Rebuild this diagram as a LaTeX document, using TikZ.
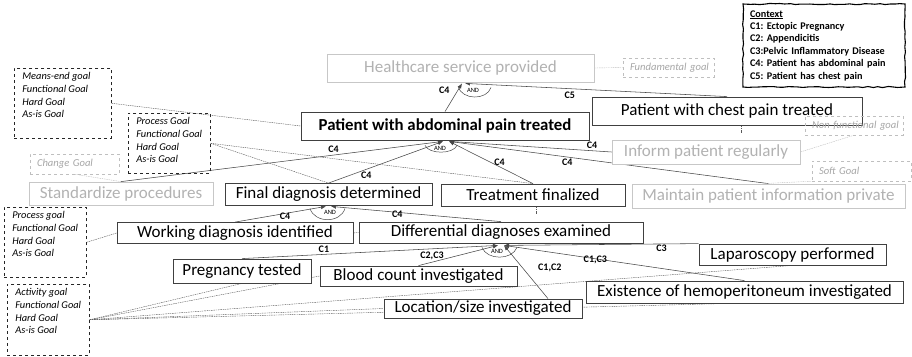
\documentclass[tikz,border=0pt]{standalone}
\usepackage{fontspec}
\setmainfont{Carlito}
\usetikzlibrary{arrows.meta,backgrounds,decorations.pathmorphing}

\tikzset{
  goal/.style={rectangle, draw=black!75, line width=0.8pt, fill=white, inner sep=0pt, font=\fontsize{17}{19}\selectfont},
  greygoal/.style={goal, draw=black!22, text=black!30},
  tag/.style={rectangle, draw=black!25, dashed, inner xsep=7pt, inner ysep=0pt, align=left, text=black!35, font=\fontsize{10.6}{12}\selectfont\itshape},
  typebox/.style={rectangle, draw=black!85, dashed, line width=0.6pt, anchor=north west, inner xsep=8pt, inner ysep=4pt, font=\fontsize{10.4}{12.8}\selectfont\itshape},
  link/.style={draw=black!72, line width=0.55pt, -{Latex[length=5pt,width=4pt]}},
  cond/.style={font=\fontsize{10}{11}\selectfont\bfseries, inner sep=1pt},
  trace/.style={draw=black!65, line width=0.4pt, dash pattern=on 1.5pt off 0.8pt},
  greytrace/.style={trace, draw=black!25},
  andarc/.style={draw=black!72, line width=0.5pt},
  andtext/.style={font=\fontsize{6.5}{7}\selectfont, inner sep=0pt}
}

\begin{document}
\begin{tikzpicture}[x=1pt, y=-1pt]
  \useasboundingbox (0,0) rectangle (912,356);
  % Goals
  \node (HC) [greygoal, minimum width=267pt, minimum height=28pt] at (460.5,68) {Healthcare service provided};
  \node (Fund) [tag, text width=77pt, minimum height=19pt] at (668.5,67.5) {\mbox{Fundamental goal}};
  \node (ctx) [draw, line width=1.1pt, decorate, decoration={random steps, segment length=5pt, amplitude=0.6pt}, minimum width=162pt, minimum height=83pt, text width=148pt, align=left, font=\fontsize{10.2}{12.4}\selectfont\bfseries\frenchspacing] at (824,45.5) {\underline{Context}\\C1: Ectopic Pregnancy\\C2: Appendicitis\\C3:Pelvic Inflammatory Disease\\C4: Patient has abdominal pain\\C5: Patient has chest pain};
  \node (Abd) [goal, minimum width=288pt, minimum height=28pt, font=\fontsize{16.8}{19}\selectfont\bfseries] at (445,126) {Patient with abdominal pain treated};
  \node (Chest) [goal, minimum width=270pt, minimum height=28pt] at (727,111) {Patient with chest pain treated};
  \node (NF) [tag, text width=84pt, minimum height=19pt] at (854,125.5) {\mbox{Non functional goal}};
  \node (Inform) [greygoal, minimum width=188pt, minimum height=24pt] at (706,152) {Inform patient regularly};
  \node (Soft) [tag, text width=85pt, minimum height=20pt] at (861.5,171) {\mbox{Soft Goal}};
  \node (Means) [typebox] at (14,68) {\parbox[t][62pt][t]{81pt}{\raggedright Means-end goal\\Functional Goal\\Hard Goal\\As-is Goal}};
  \node (PG) [typebox] at (128,113) {\parbox[t][52pt][t]{66pt}{\raggedright Process Goal\\Functional Goal\\Hard Goal\\As-is Goal}};
  \node (Change) [tag, text width=75pt, minimum height=20pt] at (74.5,164) {\mbox{Change Goal}};
  \node (Std) [greygoal, minimum width=184pt, minimum height=23pt] at (121,193.5) {Standardize procedures};
  \node (Final) [goal, minimum width=207pt, minimum height=22pt] at (328.5,194.5) {Final diagnosis determined};
  \node (Treat) [goal, minimum width=184pt, minimum height=22pt] at (533,195) {Treatment finalized};
  \node (Maint) [greygoal, minimum width=273pt, minimum height=24pt] at (768.5,196) {Maintain patient information private};
  \node (PGL) [typebox] at (4,207) {\parbox[t][62pt][t]{66pt}{\raggedright Process goal\\Functional Goal\\Hard Goal\\As-is Goal}};
  \node (Work) [goal, minimum width=236pt, minimum height=21pt] at (235,233) {Working diagnosis identified};
  \node (Diff) [goal, minimum width=284pt, minimum height=21pt] at (501,232.5) {Differential diagnoses examined};
  \node (Preg) [goal, minimum width=138pt, minimum height=24pt] at (242,271) {Pregnancy tested};
  \node (Blood) [goal, minimum width=197pt, minimum height=20pt] at (418.5,276) {Blood count investigated};
  \node (Lap) [goal, minimum width=187pt, minimum height=21pt] at (792.5,254.5) {Laparoscopy performed};
  \node (Exist) [goal, minimum width=317pt, minimum height=22pt] at (744.5,292) {Existence of hemoperitoneum investigated};
  \node (Loc) [goal, minimum width=198pt, minimum height=19pt] at (483,308.5) {Location/size investigated};
  \node (Act) [typebox] at (7,284) {\parbox[t][63pt][t]{66pt}{\raggedright Activity goal\\Functional Goal\\Hard Goal\\As-is Goal}};
  % AND points
  \coordinate (hcAnd) at ([xshift=2.5pt,yshift=-1pt]HC.south);
  \coordinate (abdAnd) at ([xshift=1pt,yshift=-1pt]Abd.south);
  \coordinate (finAnd) at ([yshift=-0.5pt]Final.south);
  \coordinate (difAnd) at ([yshift=-2pt]Diff.south);
  \coordinate (chestEnd) at ([xshift=14pt,yshift=-8pt]Chest.south);
  \coordinate (treatEnd) at ([xshift=3pt,yshift=-8pt]Treat.south);
  \begin{scope}[on background layer]
    % Refinements
    \draw[link] (Abd.north) -- ([xshift=-1pt]hcAnd) node[cond, pos=0.75, left=7pt] (cHC4) {C4};
    \draw[link] (Chest.north) -- ([xshift=2pt]hcAnd) node[cond, pos=0.6, below=2pt] (cHC5) {C5};
    \draw[link] (Std.north) -- ([xshift=-3pt]abdAnd) node[cond, pos=0.66, above=1pt] (cAbd1) {C4};
    \draw[link] (Final.north) -- ([xshift=-3pt]abdAnd) node[cond, pos=0.33, below=1pt] (cAbd2) {C4};
    \draw[link] (Treat.north) -- ([xshift=3pt]abdAnd) node[cond, pos=0.5, right=2pt] (cAbd3) {C4};
    \draw[link] (Inform.west) -- ([xshift=3pt]abdAnd) node[cond, pos=0.12, above=1pt] (cAbd4) {C4};
    \draw[link] (Maint.north) -- ([xshift=3pt]abdAnd) node[cond, pos=0.63, below=1pt] (cAbd5) {C4};
    \draw[link] (Work.north) -- ([xshift=-2.5pt]finAnd) node[cond, pos=0.55, yshift=-3pt] (cFin1) {C4};
    \draw[link] (Diff.north) -- ([xshift=2.5pt]finAnd) node[cond, pos=0.61, yshift=-1.5pt] (cFin2) {C4};
    \draw[link] (Preg.north) -- ([xshift=-3pt]difAnd) node[cond, pos=0.32, above=1pt] (cDif1) {C1};
    \draw[link] (Blood.north) -- ([xshift=-3pt]difAnd) node[cond, pos=0.17, above=1pt] (cDif2) {C2,C3};
    \draw[link] ([xshift=65pt]Loc.north) -- ([xshift=3pt]difAnd) node[cond, pos=0.57, right=14pt] (cDif3) {C1,C2};
    \draw[link] (Exist.north) -- ([xshift=3pt]difAnd) node[cond, pos=0.62, yshift=-1.5pt] (cDif4) {C1,C3};
    \draw[link] (Lap.north west) -- ([xshift=3pt]difAnd) node[cond, pos=0.19, below=0pt] (cDif5) {C3};
    % Goal types
    \draw[greytrace] (HC.east) -- (Fund.west);
    \draw[trace] (Means.east) -- (Abd.west);
    \draw[trace] (PG.east) -- (Final.north);
    \draw[trace] (PG.east) -- (Treat.north);
    \draw[greytrace] (Change.south) -- (Std.north);
    \draw[greytrace] (Inform.east) -- (NF.south);
    \draw[greytrace] ([xshift=-5pt]Maint.north) -- (Soft.south west);
    \draw[trace] ([xshift=14pt]Chest.south) -- (chestEnd);
    \draw[trace] ([xshift=3pt]Treat.south) -- (treatEnd);
    \draw[trace] (PGL.east) -- (Work.west);
    \draw[trace] (Work.east) -- (Diff.west);
    \draw[trace] (Act.east) -- (Preg.south);
    \draw[trace] (Act.east) -- (Blood.west);
    \draw[trace] (Act.east) -- (Loc.west);
    \draw[trace] (Act.east) -- ([xshift=-15pt]Exist.south);
    \draw[trace] (Act.east) -- (Lap.south);
  \end{scope}
  % AND decompositions
  \draw[andarc, shift={(hcAnd)}] (-5,3) .. controls (-1,17) and (24,17) .. (28,4);
  \node (hcAndTxt) [andtext] at ([shift={(10pt,-7pt)}]hcAnd) {AND};
  \draw[andarc, shift={(abdAnd)}] (-21,4) .. controls (-17,13) and (7,13) .. (11,4);
  \node (abdAndTxt) [andtext] at ([shift={(-6pt,-7pt)}]abdAnd) {AND};
  \draw[andarc, shift={(finAnd)}] (-18.5,2) .. controls (-14,17) and (12,17) .. (16.5,2);
  \node (finAndTxt) [andtext] at ([shift={(1.5pt,-6pt)}]finAnd) {AND};
  \draw[andarc, shift={(difAnd)}] (-19,2) .. controls (-14,15) and (11,15) .. (16,2);
  \node (difAndTxt) [andtext] at ([shift={(-4pt,-6pt)}]difAnd) {AND};
\end{tikzpicture}
\end{document}
